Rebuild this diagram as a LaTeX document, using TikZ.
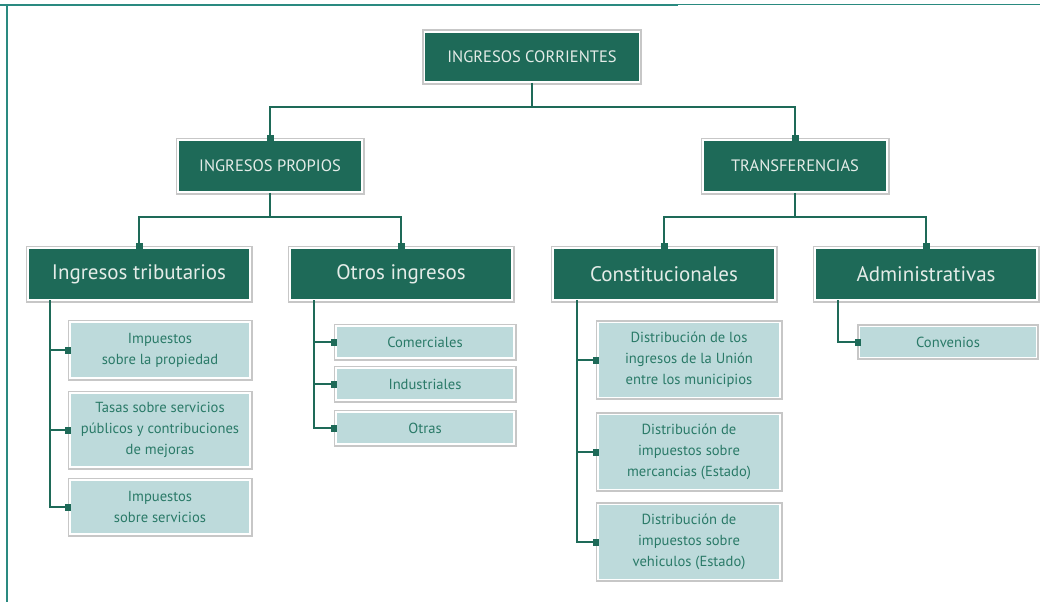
\documentclass[tikz,border=0pt]{standalone}
\usepackage{fontspec}
\setmainfont{PT Sans}
\usetikzlibrary{arrows.meta}
\definecolor{dkgreen}{HTML}{1E6A58}
\definecolor{lightfill}{HTML}{BDDADB}
\definecolor{leaftext}{HTML}{2A7A68}
\definecolor{boxtext}{HTML}{E4ECE8}
\definecolor{framec}{HTML}{2A8A80}
\tikzset{
  basebox/.style={draw=white, line width=1.6pt, inner sep=0pt, align=center,
    preaction={draw=black!22, line width=5pt}},
  topbox/.style={basebox, fill=dkgreen, text=boxtext, font=\fontsize{16.5}{18}\selectfont},
  midbox/.style={basebox, fill=dkgreen, text=boxtext, minimum width=222pt, minimum height=52pt, font=\fontsize{21}{22}\selectfont},
  leafbox/.style={basebox, fill=lightfill, text=leaftext, font=\fontsize{14.6}{21}\selectfont},
  conn/.style={draw=dkgreen, line width=2.4pt, -{Square[length=6pt,width=7pt]}},
  plain/.style={draw=dkgreen, line width=2.4pt}
}
\begin{document}
\begin{tikzpicture}[x=1pt,y=-1pt]
\useasboundingbox (0,0) rectangle (1043,602);
\fill[white] (0,0) rectangle (1043,602);
% frame
\coordinate (fa) at (0,5);
\coordinate (fb) at (678,5);
\coordinate (fc) at (1040,5);
\coordinate (fd) at (7,5);
\coordinate (fe) at (7,602);
\draw[framec, line width=2.5pt] (fa) -- (fb);
\draw[framec, line width=1pt] (fb) -- (fc);
\draw[framec, line width=1.5pt] (fd) -- (fe);

% top levels
\node[topbox, minimum width=215pt, minimum height=50pt] (corr) at (532,57) {INGRESOS CORRIENTES};
\node[topbox, minimum width=184pt, minimum height=52pt] (prop) at (270,166) {INGRESOS PROPIOS};
\node[topbox, minimum width=184pt, minimum height=52pt] (trans) at (795,166) {TRANSFERENCIAS};

\node[midbox] (trib) at (139,274) {Ingresos tributarios};
\node[midbox] (otros) at (401,274) {Otros ingresos};
\node[midbox] (const) at (664,274) {Constitucionales};
\node[midbox] (admin) at (926,274) {Administrativas};

% leaves
\node[leafbox, minimum width=180pt, minimum height=56pt] (l1) at (160,350) {Impuestos\\sobre la propiedad};
\node[leafbox, minimum width=180pt, minimum height=74pt] (l2) at (160,430) {Tasas sobre servicios\\públicos y contribuciones\\de mejoras};
\node[leafbox, minimum width=180pt, minimum height=54pt] (l3) at (160,507) {Impuestos\\sobre servicios};

\node[leafbox, minimum width=178pt, minimum height=32pt] (o1) at (425,342) {Comerciales};
\node[leafbox, minimum width=178pt, minimum height=32pt] (o2) at (425,384) {Industriales};
\node[leafbox, minimum width=178pt, minimum height=32pt] (o3) at (425,428) {Otras};

\node[leafbox, minimum width=182pt, minimum height=75pt] (c1) at (689,360) {Distribución de los\\ingresos de la Unión\\entre los municipios};
\node[leafbox, minimum width=182pt, minimum height=75pt] (c2) at (689,452) {Distribución de\\impuestos sobre\\mercancias (Estado)};
\node[leafbox, minimum width=182pt, minimum height=75pt] (c3) at (689,542) {Distribución de\\impuestos sobre\\vehiculos (Estado)};

\node[leafbox, minimum width=177pt, minimum height=31pt] (a1) at (948,342) {Convenios};

% bus coordinates
\coordinate (b0) at (532,107);
\coordinate (b1) at (270,217);
\coordinate (b2) at (795,217);

\draw[plain] (corr.south) -- (corr.south |- b0);
\draw[conn] (corr.south |- b0) -| ([yshift=-2pt]prop.north);
\draw[conn] (corr.south |- b0) -| ([yshift=-2pt]trans.north);

\draw[plain] (prop.south) -- (prop.south |- b1);
\draw[conn] (prop.south |- b1) -| ([yshift=-2pt]trib.north);
\draw[conn] (prop.south |- b1) -| ([yshift=-2pt]otros.north);

\draw[plain] (trans.south) -- (trans.south |- b2);
\draw[conn] (trans.south |- b2) -| ([yshift=-2pt]const.north);
\draw[conn] (trans.south |- b2) -| ([yshift=-2pt]admin.north);

% vertical spines
\coordinate (s1) at (50,300);
\coordinate (s2) at (314,300);
\coordinate (s3) at (577,300);
\coordinate (s4) at (838,300);

\draw[conn] (s1) |- ([xshift=2pt]l1.west);
\draw[conn] (s1) |- ([xshift=2pt]l2.west);
\draw[conn] (s1) |- ([xshift=2pt]l3.west);

\draw[conn] (s2) |- ([xshift=2pt]o1.west);
\draw[conn] (s2) |- ([xshift=2pt]o2.west);
\draw[conn] (s2) |- ([xshift=2pt]o3.west);

\draw[conn] (s3) |- ([xshift=2pt]c1.west);
\draw[conn] (s3) |- ([xshift=2pt]c2.west);
\draw[conn] (s3) |- ([xshift=2pt]c3.west);

\draw[conn] (s4) |- ([xshift=2pt]a1.west);
\end{tikzpicture}
\end{document}
